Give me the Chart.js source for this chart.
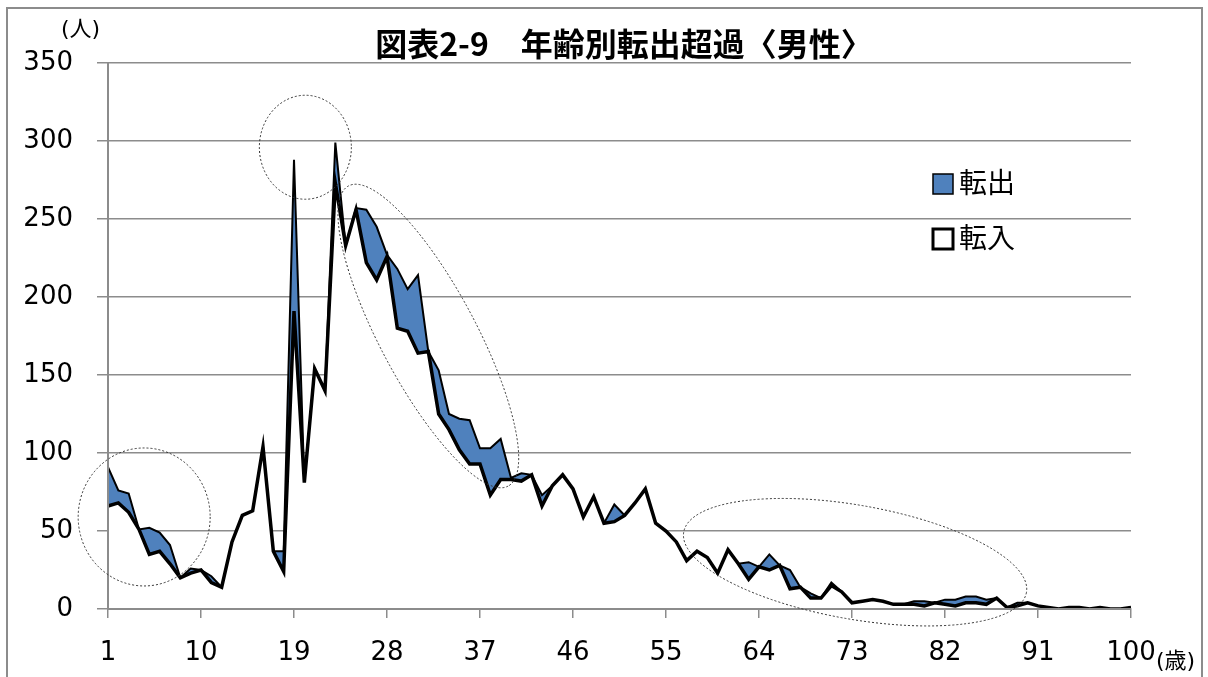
<!DOCTYPE html>
<html>
<head>
<meta charset="utf-8">
<script src="https://cdn.jsdelivr.net/npm/chart.js@4.4.1/dist/chart.umd.min.js"></script>
<style>
  body { margin: 0; background: #fff; }
  #frame { position: absolute; left: 6px; top: 7px; width: 1197px; height: 720px; border: 2px solid #8c8c8c; box-sizing: border-box; }
  #ageChart { position: absolute; left: 0; top: 0; }
</style>
</head>
<body>
<div id="frame"></div>
<canvas id="ageChart" width="1208" height="677"></canvas>
<script>
// ages (categories)
const ages = [
  1, 2, 3, 4, 5, 6, 7, 8, 9, 10,
  11, 12, 13, 14, 15, 16, 17, 18, 19, 20,
  21, 22, 23, 24, 25, 26, 27, 28, 29, 30,
  31, 32, 33, 34, 35, 36, 37, 38, 39, 40,
  41, 42, 43, 44, 45, 46, 47, 48, 49, 50,
  51, 52, 53, 54, 55, 56, 57, 58, 59, 60,
  61, 62, 63, 64, 65, 66, 67, 68, 69, 70,
  71, 72, 73, 74, 75, 76, 77, 78, 79, 80,
  81, 82, 83, 84, 85, 86, 87, 88, 89, 90,
  91, 92, 93, 94, 95, 96, 97, 98, 99, 100
];
// 転出 (people moving out)
const outflow = [
  91, 76, 74, 51, 52, 49, 41, 20, 26, 25,
  21, 14, 43, 60, 63, 104, 37, 37, 288, 81,
  154, 140, 299, 233, 257, 256, 245, 227, 218, 205,
  214, 165, 153, 125, 122, 121, 103, 103, 109, 84,
  87, 86, 73, 79, 86, 77, 59, 72, 55, 67,
  60, 68, 77, 55, 50, 43, 31, 37, 33, 23,
  38, 29, 30, 27, 35, 28, 25, 14, 10, 7,
  17, 11, 4, 5, 6, 5, 3, 3, 5, 5,
  4, 6, 6, 8, 8, 6, 7, 1, 4, 4,
  2, 1, 0, 1, 1, 0, 1, 0, 0, 1
];
// 転入 (people moving in)
const inflow = [
  66, 68, 62, 51, 35, 37, 29, 20, 23, 25,
  17, 14, 43, 60, 63, 104, 37, 24, 191, 81,
  154, 140, 273, 233, 256, 222, 211, 226, 180, 178,
  164, 165, 125, 115, 102, 93, 93, 73, 83, 83,
  82, 86, 66, 79, 86, 77, 59, 72, 55, 56,
  60, 68, 77, 55, 50, 43, 31, 37, 33, 23,
  38, 29, 19, 27, 25, 28, 13, 14, 7, 7,
  15, 11, 4, 5, 6, 5, 3, 3, 3, 2,
  4, 3, 2, 4, 4, 3, 7, 1, 2, 4,
  2, 1, 0, 1, 1, 0, 1, 0, 0, 1
];
// ages that get a tick label
const ageLabels = [1, 10, 19, 28, 37, 46, 55, 64, 73, 82, 91, 100];
const yTicks = [0, 50, 100, 150, 200, 250, 300, 350];

const titleText = '図表2-9　年齢別転出超過〈男性〉';

// dotted hand-drawn ellipses: centre in data units, radii in px
const ellipses = [
  { age: 4.5, value: 59, rx: 66, ry: 69, rot: 0 },
  { age: 20.1, value: 296, rx: 46, ry: 52, rot: 0 },
  { age: 32, value: 175, rx: 170, ry: 48, rot: 62 },
  { age: 73.3, value: 30, rx: 174, ry: 57, rot: 10 }
];

const GRID = '#8c8c8c';
const BLUE = '#4f81bd';
const CJK = '"Noto Sans CJK JP", "Noto Sans CJK SC", sans-serif';
const NUMFONT = '"DejaVu Sans", Verdana, sans-serif';

const decorations = {
  id: 'decorations',
  afterDatasetsDraw(chart) {
    const { ctx, chartArea: a } = chart;
    ctx.save();
    ctx.strokeStyle = GRID;
    ctx.lineWidth = 2;
    ctx.beginPath();
    ctx.moveTo(a.left, a.top);
    ctx.lineTo(a.left, a.bottom);
    ctx.lineTo(a.right, a.bottom);
    ctx.stroke();
    ctx.restore();
  },
  afterDraw(chart) {
    const { ctx, scales: { x, y } } = chart;
    ctx.save();

    // title
    ctx.fillStyle = '#000';
    ctx.font = 'bold 32px ' + CJK;
    ctx.textAlign = 'center';
    ctx.textBaseline = 'middle';
    ctx.fillText(titleText, 624, 44);

    // unit labels
    ctx.font = '22px ' + NUMFONT + ', ' + CJK;
    ctx.textAlign = 'left';
    ctx.fillText('(人)', 61, 30);
    ctx.fillText('(歳)', 1156, 662);

    // legend (転出 first, 転入 second)
    const items = chart.data.datasets.slice().reverse();
    ctx.font = '28px ' + CJK;
    items.forEach((ds, i) => {
      const top = 174 + i * 55;
      ctx.fillStyle = ds.backgroundColor;
      ctx.fillRect(933, top, 20, 20);
      ctx.strokeStyle = '#000';
      ctx.lineWidth = i === 0 ? 1.5 : 3;
      ctx.strokeRect(933, top, 20, 20);
      ctx.fillStyle = '#000';
      ctx.textBaseline = 'middle';
      ctx.fillText(ds.label, 959, top + 8);
    });

    // dotted ellipses
    ctx.strokeStyle = '#333';
    ctx.lineWidth = 1;
    ctx.setLineDash([2, 2]);
    const step = x.getPixelForValue(1) - x.getPixelForValue(0);
    ellipses.forEach(e => {
      const base = Math.floor(e.age);
      const cx = x.getPixelForValue(ages.indexOf(base)) + (e.age - base) * step;
      const cy = y.getPixelForValue(e.value);
      ctx.beginPath();
      ctx.ellipse(cx, cy, e.rx, e.ry, e.rot * Math.PI / 180, 0, Math.PI * 2);
      ctx.stroke();
    });
    ctx.restore();
  }
};

new Chart(document.getElementById('ageChart'), {
  type: 'line',
  data: {
    labels: ages,
    datasets: [
      {
        label: '転入',
        data: inflow,
        borderColor: '#000',
        borderWidth: 3.5,
        backgroundColor: '#ffffff',
        fill: 'origin',
        pointRadius: 0,
        tension: 0
      },
      {
        label: '転出',
        data: outflow,
        borderColor: '#000',
        borderWidth: 2,
        backgroundColor: BLUE,
        fill: 'origin',
        pointRadius: 0,
        tension: 0
      }
    ]
  },
  options: {
    responsive: false,
    animation: false,
    devicePixelRatio: 1,
    layout: { padding: { left: 0, top: 63, right: 77, bottom: 0 } },
    plugins: {
      legend: { display: false },
      title: { display: false },
      tooltip: { enabled: false }
    },
    scales: {
      x: {
        type: 'category',
        offset: false,
        afterFit: (scale) => { scale.height = 68; },
        border: { display: false },
        grid: {
          display: true,
          drawOnChartArea: false,
          drawTicks: true,
          tickLength: 9,
          color: GRID,
          lineWidth: 1.5
        },
        ticks: {
          autoSkip: false,
          maxRotation: 0,
          padding: 20,
          color: '#000',
          font: { family: NUMFONT, size: 26 },
          callback: (val, idx) => ageLabels.includes(ages[idx]) ? String(ages[idx]) : null
        }
      },
      y: {
        min: 0,
        max: 350,
        afterFit: (scale) => { scale.width = 108; },
        afterBuildTicks: (scale) => { scale.ticks = yTicks.map(v => ({ value: v })); },
        border: { display: false },
        grid: {
          color: GRID,
          lineWidth: 1.5,
          drawTicks: true,
          tickLength: 11
        },
        ticks: {
          padding: 24,
          color: '#000',
          font: { family: NUMFONT, size: 26 }
        }
      }
    }
  },
  plugins: [decorations]
});
</script>
</body>
</html>
